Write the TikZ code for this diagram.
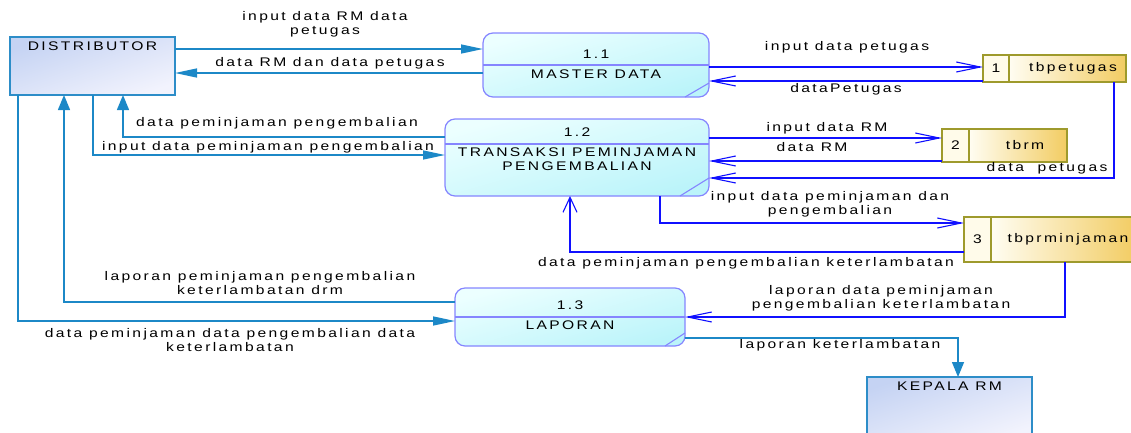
\documentclass[tikz,border=0pt]{standalone}
\usepackage{fontspec}
\setmainfont{Liberation Sans}
\newfontfamily\dfdfont[FakeStretch=1.25,LetterSpace=19]{Liberation Sans}
\usetikzlibrary{arrows.meta,calc}
\definecolor{entb}{HTML}{2D8DC8}
\definecolor{entA}{HTML}{C5D3F3}
\definecolor{entB}{HTML}{F2F3FD}
\definecolor{procb}{HTML}{8585FF}
\definecolor{procA}{HTML}{ECFFFF}
\definecolor{procB}{HTML}{BBF4FA}
\definecolor{stb}{HTML}{9E9A2C}
\definecolor{stA}{HTML}{FFFDF2}
\definecolor{stB}{HTML}{F2CC62}
\definecolor{stnum}{HTML}{FFFBEA}
\definecolor{tealc}{HTML}{1C88C7}
\definecolor{bluec}{HTML}{1010FF}
\tikzset{
  entity/.style={draw=entb, line width=1.4pt, top color=entA, bottom color=entB, shading angle=19,
    minimum width=165pt, minimum height=58pt, inner sep=0pt, outer sep=0pt, anchor=north west},
  proc/.style={draw=procb, line width=1.2pt, rounded corners=10pt, top color=procA, bottom color=procB,
    shading angle=16, inner sep=0pt, outer sep=0pt, anchor=north west},
  procline/.style={draw=procb, line width=1.1pt},
  stnumbox/.style={draw=stb, line width=1.3pt, fill=stnum, inner sep=0pt, outer sep=0pt, anchor=north west},
  stnamebox/.style={draw=stb, line width=1.3pt, left color=stA, right color=stB, inner sep=0pt, outer sep=0pt, anchor=north west},
  lbl/.style={inner sep=0pt, align=center, text=black},
  tealH/.style={draw=tealc, line width=1.4pt, -{Triangle[length=22pt,width=9pt]}},
  tealV/.style={draw=tealc, line width=1.4pt, -{Triangle[length=15pt,width=12pt]}},
  blueH/.style={draw=bluec, line width=1.1pt, -{Straight Barb[length=24pt,width=10pt]}},
  blueV/.style={draw=bluec, line width=1.1pt, -{Straight Barb[length=15pt,width=14pt]}},
}
\begin{document}
\begin{tikzpicture}[x=1pt,y=-1pt,font=\dfdfont\fontsize{12.5pt}{14pt}\selectfont]
\useasboundingbox (0,0) rectangle (1131,432);
\clip (0,0) rectangle (1131,432);

% external entities
\node[entity] (dist) at (10,37) {};
\node[lbl] (distt) at (92.5,46.5) {DISTRIBUTOR};
\node[entity, minimum height=62pt] (kep) at (867,377) {};
\node[lbl] (kept) at (949.5,386.5) {KEPALA RM};

% processes
\node[proc, minimum width=226pt, minimum height=64pt] (p11) at (483,33) {};
\draw[procline] (p11.west |- 0,65) -- (p11.east |- 0,65);
\draw[procline] ([xshift=-24pt]p11.south east) -- ([yshift=14pt]p11.south east);
\node[lbl] (p11a) at (596,54.5) {1.1};
\node[lbl] (p11b) at (596,74.5) {MASTER DATA};

\node[proc, minimum width=264pt, minimum height=77pt] (p12) at (445,119) {};
\draw[procline] (p12.west |- 0,144) -- (p12.east |- 0,144);
\draw[procline] ([xshift=-29pt]p12.south east) -- ([yshift=18pt]p12.south east);
\node[lbl] (p12a) at (577,132.5) {1.2};
\node[lbl] (p12b) at (577,159.5) {TRANSAKSI PEMINJAMAN\\PENGEMBALIAN};

\node[proc, minimum width=230pt, minimum height=58pt] (p13) at (455,288) {};
\draw[procline] (p13.west |- 0,317) -- (p13.east |- 0,317);
\draw[procline] ([xshift=-20pt]p13.south east) -- ([yshift=13pt]p13.south east);
\node[lbl] (p13a) at (570,305.5) {1.3};
\node[lbl] (p13b) at (570,325.5) {LAPORAN};

% data stores
\node[stnumbox, minimum width=26pt, minimum height=27pt] (s1n) at (983,55) {};
\node[stnamebox, minimum width=117pt, minimum height=27pt] (s1) at (1009,55) {};
\node[lbl] (s1nt) at (996,68.5) {1};
\node[lbl] (s1t) at (1073,68.5) {tbpetugas};

\node[stnumbox, minimum width=27pt, minimum height=33pt] (s2n) at (942,129) {};
\node[stnamebox, minimum width=98pt, minimum height=33pt] (s2) at (969,129) {};
\node[lbl] (s2nt) at (955.5,145.5) {2};
\node[lbl] (s2t) at (1025,145.5) {tbrm};

\node[stnumbox, minimum width=27pt, minimum height=45pt] (s3n) at (964,217) {};
\node[stnamebox, minimum width=145pt, minimum height=45pt] (s3) at (991,217) {};
\node[lbl] (s3nt) at (977.5,239.5) {3};
\node[lbl] (s3t) at (1068,239.5) {tbprminjaman};

% teal flows (entities)
\draw[tealH] (dist.east |- 0,49) -- (p11.west |- 0,49);
\node[lbl] (l1) at (325,24) {input data RM data\\petugas};
\draw[tealH] (p11.west |- 0,73) -- (dist.east |- 0,73);
\node[lbl] (l2) at (330,63.5) {data RM dan data petugas};
\draw[tealV] (p12.west |- 0,137) -| (dist.south -| 123,0);
\node[lbl] (l3) at (277,123.5) {data peminjaman pengembalian};
\draw[tealH] (dist.south -| 93,0) |- (p12.west |- 0,155);
\node[lbl] (l4) at (268,147.5) {input data peminjaman pengembalian};
\draw[tealV] (p13.west |- 0,302) -| (dist.south -| 64,0);
\node[lbl] (l5) at (260,283) {laporan peminjaman pengembalian\\keterlambatan drm};
\draw[tealH] (dist.south -| 18,0) |- (p13.west |- 0,321);
\node[lbl] (l6) at (230,340.5) {data peminjaman data pengembalian data\\keterlambatan};
\draw[tealV] (p13.east |- 0,338) -| (kep.north -| 958,0);
\node[lbl] (l7) at (840,345.5) {laporan keterlambatan};

% blue flows (data stores)
\draw[blueH] (p11.east |- 0,67) -- (s1n.west |- 0,67);
\node[lbl] (b1) at (847,47.5) {input data petugas};
\draw[blueH] (s1n.west |- 0,81) -- (p11.east |- 0,81);
\node[lbl] (b2) at (846,89.5) {dataPetugas};
\draw[blueH] (p12.east |- 0,138) -- (s2n.west |- 0,138);
\node[lbl] (b3) at (827,128.5) {input data RM};
\draw[blueH] (s2n.west |- 0,161) -- (p12.east |- 0,161);
\node[lbl] (b4) at (812,147.5) {data RM};
\draw[blueH] (s1.south -| 1114,0) |- (p12.east |- 0,178);
\node[lbl] (b5) at (1047,168.5) {data\ \ petugas};
\draw[blueH] (p12.south -| 660,0) |- (s3n.west |- 0,223);
\node[lbl] (b6) at (830,204.5) {input data peminjaman dan\\pengembalian};
\draw[blueV] (s3n.west |- 0,252) -| (p12.south -| 570,0);
\node[lbl] (b7) at (746,263.5) {data peminjaman pengembalian keterlambatan};
\draw[blueH] (s3.south -| 1065,0) |- (p13.east |- 0,317);
\node[lbl] (b8) at (881,298) {laporan data peminjaman\\pengembalian keterlambatan};
\end{tikzpicture}
\end{document}
